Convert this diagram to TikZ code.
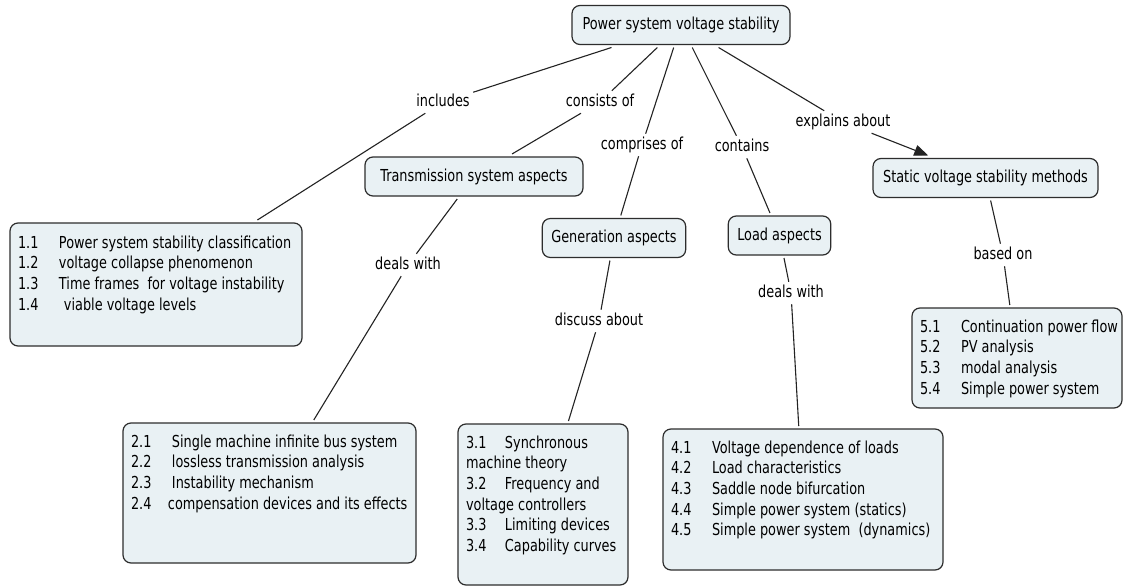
\documentclass[tikz,border=0pt]{standalone}
\usepackage{fontspec}
\setmainfont{DejaVu Sans}[FakeStretch=0.78]
\usetikzlibrary{arrows.meta}
\definecolor{boxfill}{RGB}{233,241,244}
\definecolor{boxline}{RGB}{45,45,45}
\definecolor{linkcol}{RGB}{35,35,35}
% one numbered row of a list box: number in a fixed column, then the text
\newcommand{\listrow}[3][41pt]{\mbox{\makebox[#1][l]{#2}#3}}

\begin{document}
\begin{tikzpicture}[x=1pt,y=-1pt,
  every node/.style={font=\fontsize{16.5pt}{20.7pt}\selectfont},
  concept/.style={draw=boxline, fill=boxfill, line width=1.2pt, rounded corners=8pt,
    minimum height=39pt, inner xsep=9pt, outer sep=3pt},
  listbox/.style={draw=boxline, fill=boxfill, line width=1.2pt, rounded corners=8pt,
    inner xsep=8pt, inner ysep=0pt, outer sep=3pt},
  linklabel/.style={inner sep=2pt, outer sep=1.5pt, text height=12pt, text depth=3.5pt},
  link/.style={draw=linkcol, line width=1.1pt},
  arrowlink/.style={link, -{Triangle[length=14pt,width=11pt]}}]

\fill[white] (0,0) rectangle (1126,586);
\useasboundingbox (0,0) rectangle (1126,586);

% concepts
\node[concept, minimum width=218pt] (root)   at (681,25)    {Power system voltage stability};
\node[concept, minimum width=218pt] (trans)  at (474,176.5) {Transmission system aspects};
\node[concept]                      (gen)    at (614,238)   {Generation aspects};
\node[concept]                      (load)   at (779.5,235.5) {Load aspects};
\node[concept, minimum width=225pt] (static) at (985.5,178) {Static voltage stability methods};

% list boxes
\node[listbox] (box1) at (156,284.5) {\begin{minipage}[t][123pt][t]{276pt}\raggedright
\rule{0pt}{25pt}\listrow{1.1}{Power system stability classification}\\
\listrow{1.2}{voltage collapse phenomenon}\\
\listrow{1.3}{Time frames\hspace{4pt} for voltage instability}\\
\listrow{1.4}{\hspace{5pt}viable voltage levels}
\end{minipage}};

\node[listbox] (box2) at (269.5,493) {\begin{minipage}[t][140pt][t]{277pt}\raggedright
\rule{0pt}{24pt}\listrow{2.1}{Single machine infinite bus system}\\
\listrow{2.2}{lossless transmission analysis}\\
\listrow{2.3}{Instability mechanism}\\
\listrow[37pt]{2.4}{compensation devices and its effects}
\end{minipage}};

\node[listbox] (box3) at (543,504.5) {\begin{minipage}[t][161pt][t]{154pt}\raggedright
\rule{0pt}{24pt}\listrow[39pt]{3.1}{Synchronous}\\
machine theory\\
\listrow[39pt]{3.2}{Frequency and}\\
voltage controllers\\
\listrow[39pt]{3.3}{Limiting devices}\\
\listrow[39pt]{3.4}{Capability curves}
\end{minipage}};

\node[listbox] (box4) at (803,499.5) {\begin{minipage}[t][141pt][t]{264pt}\raggedright
\rule{0pt}{24pt}\listrow{4.1}{Voltage dependence of loads}\\
\listrow{4.2}{Load characteristics}\\
\listrow{4.3}{Saddle node bifurcation}\\
\listrow{4.4}{Simple power system (statics)}\\
\listrow{4.5}{Simple power system\hspace{4pt} (dynamics)}
\end{minipage}};

\node[listbox] (box5) at (1017,358) {\begin{minipage}[t][100pt][t]{194pt}\raggedright
\rule{0pt}{24pt}\listrow{5.1}{Continuation power flow}\\
\listrow{5.2}{PV analysis}\\
\listrow{5.3}{modal analysis}\\
\listrow{5.4}{Simple power system}
\end{minipage}};

% linking phrases
\node[linklabel] (l1) at (443,102) {includes};
\node[linklabel] (l2) at (600,102) {consists of};
\node[linklabel] (l3) at (642,145) {comprises of};
\node[linklabel] (l4) at (742,147) {contains};
\node[linklabel] (l5) at (843,122) {explains about};
\node[linklabel] (l6) at (408,265) {deals with};
\node[linklabel] (l7) at (599,321) {discuss about};
\node[linklabel] (l8) at (791,293) {deals with};
\node[linklabel] (l9) at (1003,255) {based on};

% links
\draw[link] (root) -- (l1) -- (box1);
\draw[link] (root) -- (l2) -- (trans);
\draw[link] (root) -- (l3) -- (gen);
\draw[link] (root) -- (l4) -- (load);
\draw[link] (root) -- (l5);
\draw[arrowlink] (l5) -- (static);
\draw[link] (trans) -- (l6) -- (box2);
\draw[link] (gen) -- (l7) -- (box3);
\draw[link] (load) -- (l8) -- (box4);
\draw[link] (static) -- (l9) -- (box5);
\end{tikzpicture}
\end{document}
